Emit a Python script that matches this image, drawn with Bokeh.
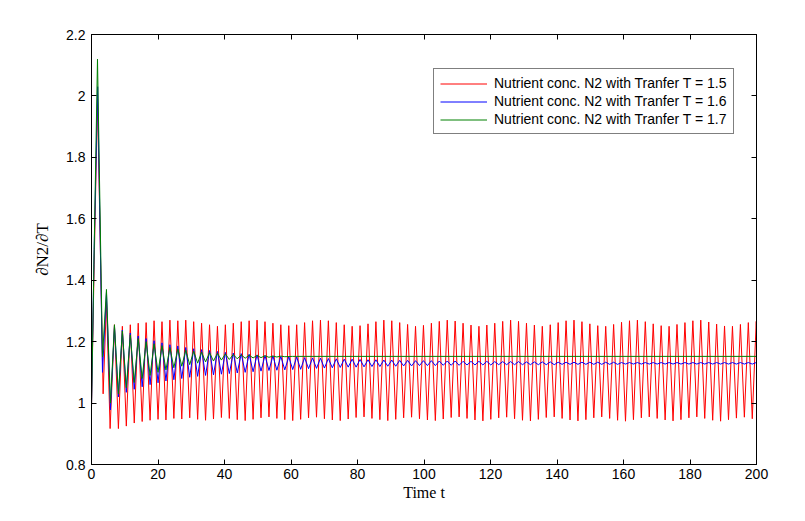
from bokeh.plotting import figure
from bokeh.models import Range1d, LinearAxis, FixedTicker, Legend, LegendItem
from bokeh.embed import file_html
from bokeh.resources import INLINE

# ---------------- data ----------------
x_ticks = [0, 20, 40, 60, 80, 100, 120, 140, 160, 180, 200]
x_tick_labels = ["0", "20", "40", "60", "80", "100", "120", "140", "160", "180", "200"]
y_ticks = [0.8, 1.0, 1.2, 1.4, 1.6, 1.8, 2.0, 2.2]
y_tick_labels = ["0.8", "1", "1.2", "1.4", "1.6", "1.8", "2", "2.2"]

series_labels = ["Nutrient conc. N2 with Tranfer T = 1.5",
                 "Nutrient conc. N2 with Tranfer T = 1.6",
                 "Nutrient conc. N2 with Tranfer T = 1.7"]

# times of the oscillation maxima and minima
cycle_peak_t = [6.90, 9.28, 11.67, 14.05, 16.43, 18.82, 21.20, 23.58, 25.96, 28.35,
                30.73, 33.11, 35.50, 37.88, 40.26, 42.65, 45.03, 47.41, 49.79, 52.18,
                54.56, 56.94, 59.33, 61.71, 64.09, 66.48, 68.86, 71.24, 73.62, 76.01,
                78.39, 80.77, 83.16, 85.54, 87.92, 90.31, 92.69, 95.07, 97.45, 99.84,
                102.22, 104.60, 106.99, 109.37, 111.75, 114.14, 116.52, 118.90, 121.28, 123.67,
                126.05, 128.43, 130.82, 133.20, 135.58, 137.97, 140.35, 142.73, 145.11, 147.50,
                149.88, 152.26, 154.65, 157.03, 159.41, 161.80, 164.18, 166.56, 168.94, 171.33,
                173.71, 176.09, 178.48, 180.86, 183.24, 185.63, 188.01, 190.39, 192.77, 195.16,
                197.54, 199.92]
cycle_trough_t = [8.09, 10.47, 12.86, 15.24, 17.62, 20.01, 22.39, 24.77, 27.15, 29.54,
                  31.92, 34.30, 36.69, 39.07, 41.45, 43.84, 46.22, 48.60, 50.98, 53.37,
                  55.75, 58.13, 60.52, 62.90, 65.28, 67.67, 70.05, 72.43, 74.81, 77.20,
                  79.58, 81.96, 84.35, 86.73, 89.11, 91.50, 93.88, 96.26, 98.64, 101.03,
                  103.41, 105.79, 108.18, 110.56, 112.94, 115.33, 117.71, 120.09, 122.47, 124.86,
                  127.24, 129.62, 132.01, 134.39, 136.77, 139.16, 141.54, 143.92, 146.30, 148.69,
                  151.07, 153.45, 155.84, 158.22, 160.60, 162.99, 165.37, 167.75, 170.13, 172.52,
                  174.90, 177.28, 179.67, 182.05, 184.43, 186.82, 189.20, 191.58, 193.96, 196.35,
                  198.73, 201.11]

# T = 1.5 (red)
red_early_t = [0.0, 0.8, 1.8, 3.5, 4.5, 5.6]
red_early_v = [0.99, 1.45, 1.99, 1.03, 1.33, 0.917]
red_peak_v = [1.255, 1.250, 1.255, 1.260, 1.262, 1.268, 1.265, 1.270, 1.268, 1.270,
              1.265, 1.260, 1.255, 1.250, 1.255, 1.260, 1.265, 1.268, 1.270, 1.265,
              1.260, 1.255, 1.252, 1.255, 1.262, 1.268, 1.270, 1.268, 1.262, 1.255,
              1.250, 1.252, 1.258, 1.265, 1.270, 1.268, 1.262, 1.256, 1.250, 1.253,
              1.260, 1.266, 1.270, 1.267, 1.260, 1.254, 1.250, 1.254, 1.260, 1.266,
              1.270, 1.266, 1.260, 1.254, 1.250, 1.255, 1.262, 1.268, 1.270, 1.265,
              1.258, 1.252, 1.250, 1.256, 1.263, 1.268, 1.270, 1.265, 1.258, 1.252,
              1.250, 1.256, 1.262, 1.268, 1.270, 1.264, 1.257, 1.251, 1.250, 1.256,
              1.262, 1.266]
red_trough_v = [0.917, 0.925, 0.935, 0.940, 0.944, 0.947, 0.945, 0.950, 0.948, 0.952,
                0.947, 0.944, 0.948, 0.953, 0.950, 0.946, 0.943, 0.947, 0.952, 0.955,
                0.950, 0.946, 0.943, 0.947, 0.952, 0.954, 0.949, 0.945, 0.943, 0.948,
                0.953, 0.955, 0.950, 0.946, 0.943, 0.947, 0.952, 0.954, 0.949, 0.945,
                0.943, 0.948, 0.953, 0.955, 0.950, 0.945, 0.942, 0.947, 0.952, 0.954,
                0.949, 0.944, 0.942, 0.947, 0.953, 0.955, 0.950, 0.945, 0.942, 0.946,
                0.952, 0.955, 0.950, 0.944, 0.941, 0.946, 0.952, 0.955, 0.950, 0.945,
                0.942, 0.946, 0.952, 0.955, 0.950, 0.944, 0.941, 0.946, 0.951, 0.954,
                0.949, 0.945]

# T = 1.6 (blue)
blue_early_t = [0.0, 0.8, 1.85, 3.3, 4.5, 5.7]
blue_early_v = [0.99, 1.5, 2.03, 1.10, 1.36, 0.978]
blue_peak_v = [1.250, 1.238, 1.228, 1.218, 1.210, 1.203, 1.196, 1.190, 1.186, 1.181,
               1.177, 1.174, 1.171, 1.168, 1.165, 1.163, 1.161, 1.159, 1.157, 1.155,
               1.154, 1.152, 1.151, 1.150, 1.148, 1.147, 1.146, 1.145, 1.144, 1.143,
               1.143, 1.142, 1.141, 1.141, 1.140, 1.140, 1.139, 1.139, 1.138, 1.138,
               1.138, 1.137, 1.137, 1.137, 1.136, 1.136, 1.136, 1.136, 1.135, 1.135,
               1.135, 1.135, 1.134, 1.134, 1.134, 1.134, 1.133, 1.133, 1.133, 1.133,
               1.133, 1.133, 1.133, 1.133, 1.132, 1.132, 1.132, 1.132, 1.132, 1.132,
               1.132, 1.132, 1.132, 1.132, 1.132, 1.132, 1.132, 1.132, 1.132, 1.132,
               1.132, 1.132]
blue_trough_v = [1.020, 1.035, 1.045, 1.053, 1.060, 1.066, 1.072, 1.076, 1.080, 1.084,
                 1.087, 1.090, 1.092, 1.094, 1.096, 1.098, 1.100, 1.102, 1.104, 1.106,
                 1.107, 1.108, 1.109, 1.110, 1.112, 1.113, 1.114, 1.115, 1.116, 1.117,
                 1.117, 1.118, 1.119, 1.119, 1.120, 1.120, 1.121, 1.121, 1.122, 1.122,
                 1.122, 1.123, 1.123, 1.123, 1.124, 1.124, 1.124, 1.124, 1.125, 1.125,
                 1.125, 1.125, 1.125, 1.125, 1.125, 1.125, 1.126, 1.126, 1.126, 1.126,
                 1.126, 1.126, 1.126, 1.126, 1.127, 1.127, 1.127, 1.127, 1.127, 1.127,
                 1.127, 1.127, 1.127, 1.127, 1.127, 1.127, 1.127, 1.127, 1.127, 1.127,
                 1.127, 1.127]

# T = 1.7 (green)
green_early_t = [0.0, 0.8, 1.8, 3.3, 4.5, 5.7]
green_early_v = [0.99, 1.5, 2.12, 1.15, 1.37, 1.0]
green_peak_v = [1.255, 1.235, 1.222, 1.210, 1.200, 1.193, 1.187, 1.181, 1.176, 1.172,
                1.169, 1.166, 1.164, 1.162, 1.160, 1.158, 1.157, 1.156, 1.155, 1.154,
                1.153, 1.153]
green_trough_v = [1.030, 1.050, 1.067, 1.080, 1.090, 1.100, 1.108, 1.115, 1.120, 1.125,
                  1.130, 1.134, 1.137, 1.140, 1.142, 1.144, 1.146, 1.147, 1.148, 1.149,
                  1.150, 1.151]
green_tail_t = [60.5, 200.0]
green_tail_v = [1.152, 1.152]


def build(early_t, early_v, peak_v, trough_v, tail_t=(), tail_v=()):
    ts, vs = list(early_t), list(early_v)
    for i in range(len(peak_v)):
        ts += [cycle_peak_t[i], cycle_trough_t[i]]
        vs += [peak_v[i], trough_v[i]]
    ts += list(tail_t)
    vs += list(tail_v)
    return ts, vs


red_t, red_v = build(red_early_t, red_early_v, red_peak_v, red_trough_v)
blue_t, blue_v = build(blue_early_t, blue_early_v, blue_peak_v, blue_trough_v)
green_t, green_v = build(green_early_t, green_early_v, green_peak_v, green_trough_v,
                         green_tail_t, green_tail_v)

# ---------------- figure ----------------
SANS = "Liberation Sans"
SERIF = "Liberation Serif"

p = figure(width=805, height=521, output_backend="svg", toolbar_location=None,
           x_range=Range1d(0, 200), y_range=Range1d(0.8, 2.2),
           min_border_left=91, min_border_right=49, min_border_top=34, min_border_bottom=57)
p.background_fill_color = "white"
p.border_fill_color = "white"
p.outline_line_color = "black"
p.outline_line_width = 1
p.xgrid.visible = False
p.ygrid.visible = False

r_red = p.line(red_t, red_v, line_color="#FF0000", line_width=1)
r_blue = p.line(blue_t, blue_v, line_color="#0000FF", line_width=1)
r_green = p.line(green_t, green_v, line_color="#008000", line_width=1)


def style_axis(ax, ticks, labels, show_labels):
    ax.ticker = FixedTicker(ticks=ticks)
    if show_labels:
        ax.major_label_overrides = {t: l for t, l in zip(ticks, labels)}
    else:
        ax.major_label_overrides = {t: "" for t in ticks}
    ax.major_tick_in = 5
    ax.major_tick_out = 0
    ax.minor_tick_in = 0
    ax.minor_tick_out = 0
    ax.axis_line_color = "black"
    ax.major_tick_line_color = "black"
    ax.major_label_text_font = SANS
    ax.major_label_text_font_size = "14px"
    ax.major_label_text_color = "black"


xa = p.xaxis[0]
ya = p.yaxis[0]
style_axis(xa, x_ticks, x_tick_labels, True)
style_axis(ya, y_ticks, y_tick_labels, True)
xa.major_label_standoff = 4
ya.major_label_standoff = 6
xa.axis_label = "Time t"
ya.axis_label = "\u2202N2/\u2202T"
for ax in (xa, ya):
    ax.axis_label_text_font = SERIF
    ax.axis_label_text_font_size = "16px"
    ax.axis_label_text_font_style = "normal"
    ax.axis_label_text_color = "black"
ya.axis_label_text_font_size = "17px"
xa.axis_label_standoff = 2
ya.axis_label_standoff = 11

top_ax = LinearAxis()
style_axis(top_ax, x_ticks, x_tick_labels, False)
right_ax = LinearAxis()
style_axis(right_ax, y_ticks, y_tick_labels, False)
p.add_layout(top_ax, "above")
p.add_layout(right_ax, "right")

legend = Legend(items=[LegendItem(label=series_labels[0], renderers=[r_red]),
                       LegendItem(label=series_labels[1], renderers=[r_blue]),
                       LegendItem(label=series_labels[2], renderers=[r_green])],
                location=(342, 330))
legend.border_line_color = "black"
legend.border_line_width = 1
legend.background_fill_color = "white"
legend.background_fill_alpha = 1
legend.label_text_font = SANS
legend.label_text_font_size = "14px"
legend.label_text_color = "black"
legend.padding = 6
legend.spacing = 2
legend.margin = 0
legend.label_height = 15
legend.glyph_height = 15
legend.glyph_width = 47
legend.label_standoff = 7
p.add_layout(legend, "center")

open("out.html", "w").write(file_html(p, INLINE))
